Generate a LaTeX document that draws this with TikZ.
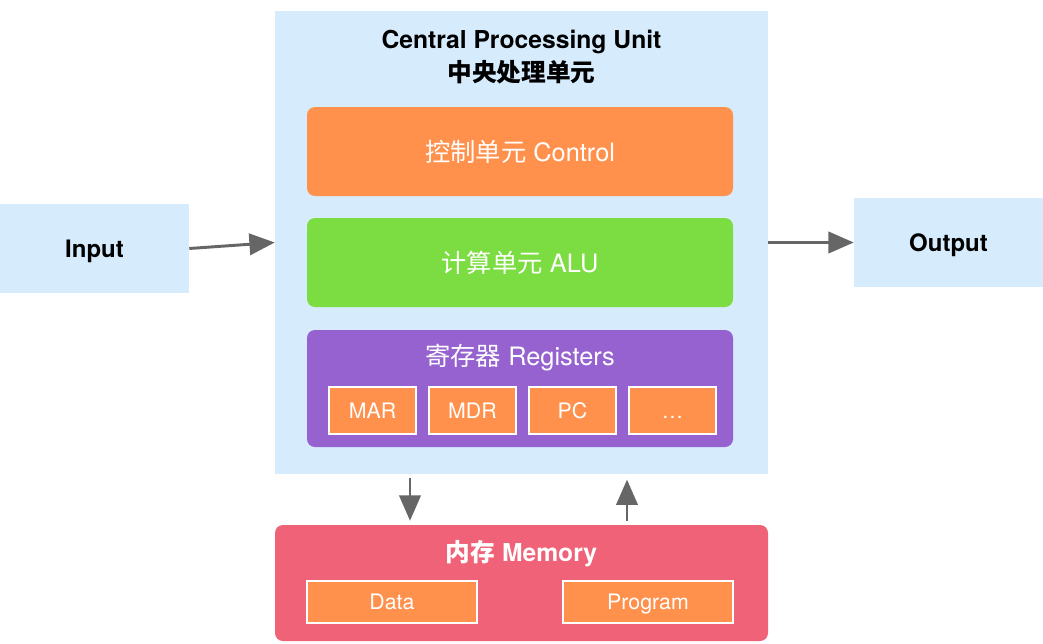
\documentclass[tikz,border=0pt]{standalone}
\usepackage{fontspec}
\setmainfont{TeX Gyre Heros}
\newfontfamily\cjk{Noto Sans CJK SC}
\usetikzlibrary{arrows.meta}
\definecolor{cpublue}{HTML}{D6ECFD}
\definecolor{ctrlorange}{HTML}{FF914D}
\definecolor{alugreen}{HTML}{7BDD41}
\definecolor{regpurple}{HTML}{9562CF}
\definecolor{memred}{HTML}{F06277}
\definecolor{arrowgray}{HTML}{666666}

\begin{document}
\begin{tikzpicture}[x=0.75pt, y=-0.75pt,
    iobox/.style={fill=cpublue, minimum width=141.75pt, minimum height=66.75pt, text height=13.5pt, text depth=0pt, font=\fontsize{18}{21}\selectfont\bfseries},
    unit/.style={rounded corners=6pt, minimum width=319.5pt, text=white, font=\fontsize{19}{22}\selectfont},
    cell/.style={fill=ctrlorange, draw=white, line width=1pt, text=white, text height=11.5pt, text depth=0pt, font=\fontsize{16}{19}\selectfont},
    flow/.style={arrowgray, line width=2.2pt, -{Triangle[length=19pt, width=16pt]}}]
    \useasboundingbox (0,0) rectangle (1043,643);

    % CPU
    \node[fill=cpublue, minimum width=369.75pt, minimum height=347.25pt] (cpu) at (521.5,242.5) {};
    \node[align=center, font=\fontsize{18.5}{25}\selectfont\bfseries] (cputitle) at (521.5,57)
        {Central Processing Unit\\{\cjk\bfseries 中央处理单元}};

    % Units
    \node[unit, fill=ctrlorange, minimum height=66.75pt] (ctrl) at (520,151.5) {{\cjk 控制单元} Control};
    \node[unit, fill=alugreen, minimum height=66.75pt] (alu) at (520,262.5) {{\cjk 计算单元} ALU};
    \node[unit, fill=regpurple, minimum height=87.75pt] (regs) at (520,388.5) {};
    \node[text=white, font=\fontsize{19}{22}\selectfont] (regtitle) at (520,358) {{\cjk 寄存器} Registers};
    \foreach \r [count=\i from 0] in {MAR,MDR,PC,\ldots} {
        \node[cell, minimum width=65.25pt, minimum height=35.25pt] (reg\i) at (372.5+\i*100,410.5) {\r};
    }

    % Input / Output
    \node[iobox] (input) at (94.5,248.5) {Input};
    \node[iobox] (output) at (948.5,242.5) {Output};

    % Memory
    \node[fill=memred, rounded corners=6pt, minimum width=369.75pt, minimum height=87pt] (mem) at (521.5,583) {};
    \node[text=white, font=\fontsize{18.5}{22}\selectfont\bfseries] (memtitle) at (521.5,554) {{\cjk\bfseries 内存} Memory};
    \node[cell, minimum width=127.5pt, minimum height=31.5pt] (data) at (392,602) {Data};
    \node[cell, minimum width=127.5pt, minimum height=31.5pt] (prog) at (648,602) {Program};

    % Connections
    \coordinate (rd) at (410,0);
    \coordinate (wr) at (627,0);
    \draw[flow] (input.east) -- (cpu.west);
    \draw[flow] (cpu.east) -- (output.west);
    \draw[flow, shorten <=3pt, shorten >=3pt] (rd |- cpu.south) -- (rd |- mem.north);
    \draw[flow, shorten <=3pt, shorten >=4pt] (wr |- mem.north) -- (wr |- cpu.south);
\end{tikzpicture}
\end{document}
